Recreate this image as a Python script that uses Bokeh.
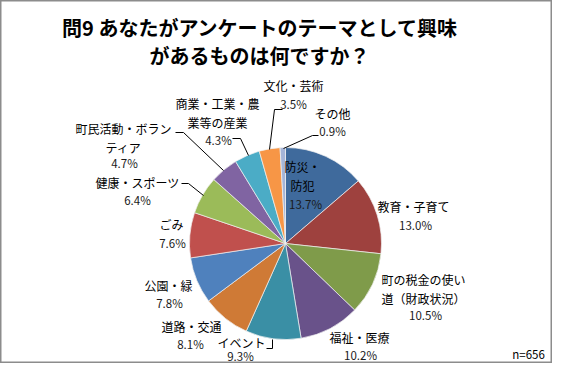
import math
from bokeh.plotting import figure
from bokeh.models import Range1d, ColumnDataSource
from bokeh.core.properties import value
from bokeh.embed import file_html
from bokeh.resources import INLINE

# ---- data ----
categories = ["防災・\n防犯", "教育・子育て", "町の税金の使い\n道（財政状況）", "福祉・医療", "イベント",
              "道路・交通", "公園・緑", "ごみ", "健康・スポーツ", "町民活動・ボラン\nティア",
              "商業・工業・農\n業等の産業", "文化・芸術", "その他"]
percents = [13.7, 13.0, 10.5, 10.2, 9.3, 8.1, 7.8, 7.6, 6.4, 4.7, 4.3, 3.5, 0.9]
colors = ["#3F6A9C", "#9E413E", "#7F9B4A", "#69528A", "#3A8FA5", "#CF7A36", "#4F81BD",
          "#C0504D", "#9BBB59", "#8064A2", "#4BACC6", "#F79646", "#A5B5D8"]
title_lines = ["問9  あなたがアンケートのテーマとして興味", "があるものは何ですか？"]
note = "n=656"

# ---- layout (picture pixel coords, origin top-left) ----
W, H = 552, 363
def X(x): return x
def Y(y): return H - y

PIE_CX, PIE_CY, PIE_R = 285, 243, 96
# label centre positions: (category x, category first-line y, percent y)
label_pos = [
    (302, 166, 203),
    (413, 206, 224),
    (423, 279, 314),
    (359, 337, 354),
    (241, 342, 355),
    (191, 326, 343),
    (168, 285, 302),
    (171, 224, 242),
    (137, 182, 199),
    (123, 128, 162),
    (217, 103, 139),
    (293, 85, 103),
    (332, 113, 130),
]
pct_x_shift = [3, 2, 2, 1, -1, -1, 1, 1, 0, 1, 1, 0, 0]
leaders = {
    4: [(266, 348), (272, 348), (272, 339)],
    8: [(181, 183), (188, 183), (203, 195)],
    9: [(175, 132), (183, 132), (223, 170)],
    10: [(232, 138), (240, 138), (248, 155)],
    11: [(282, 109), (274, 109), (269, 149)],
    12: [(318, 135), (312, 135), (283, 148)],
}

p = figure(width=W, height=H, output_backend="svg", toolbar_location=None,
           x_range=Range1d(0, W), y_range=Range1d(0, H), min_border=0)
p.axis.visible = False
p.grid.visible = False
p.outline_line_color = "#8c8c8c"
p.outline_line_width = 2
p.background_fill_color = "white"
p.border_fill_color = "white"

total = sum(percents)
starts, ends = [], []
cum = 0.0
for v in percents:
    starts.append(math.pi / 2 - 2 * math.pi * cum / total)
    cum += v
    ends.append(math.pi / 2 - 2 * math.pi * cum / total)

src = ColumnDataSource(dict(start=starts, end=ends, color=colors))
p.wedge(x=X(PIE_CX), y=Y(PIE_CY), radius=PIE_R, start_angle="start", end_angle="end",
        direction="clock", fill_color="color", line_color="#f0f0f0", line_width=0.7, source=src)

# leader lines
for i, pts in leaders.items():
    p.line([X(a) for a, b in pts], [Y(b) for a, b in pts], line_color="black", line_width=1)

font = value("Noto Sans CJK JP")
for i, cat in enumerate(categories):
    cx, cy, py = label_pos[i]
    lines = cat.split("\n")
    for k, ln in enumerate(lines):
        p.text(x=[X(cx)], y=[Y(cy + 19 * k)], text=[ln], text_font=font, text_font_size="12px",
               text_align="center", text_baseline="middle", text_color="black")
    p.text(x=[X(cx + pct_x_shift[i])], y=[Y(py)], text=[f"{percents[i]:.1f}%"], text_font=font,
           text_font_size="11.5px", text_align="center", text_baseline="middle", text_color="#1a1a1a")

# title
p.text(x=[X(262)], y=[Y(27)], text=[title_lines[0]], text_font=font, text_font_size="20px",
       text_font_style="bold", text_align="center", text_baseline="middle", text_color="black")
p.text(x=[X(259)], y=[Y(55)], text=[title_lines[1]], text_font=font, text_font_size="20px",
       text_font_style="bold", text_align="center", text_baseline="middle", text_color="black")

p.text(x=[X(528)], y=[Y(353)], text=[note], text_font=font, text_font_size="11.5px",
       text_align="center", text_baseline="middle", text_color="black")

open("out.html", "w").write(file_html(p, INLINE))
